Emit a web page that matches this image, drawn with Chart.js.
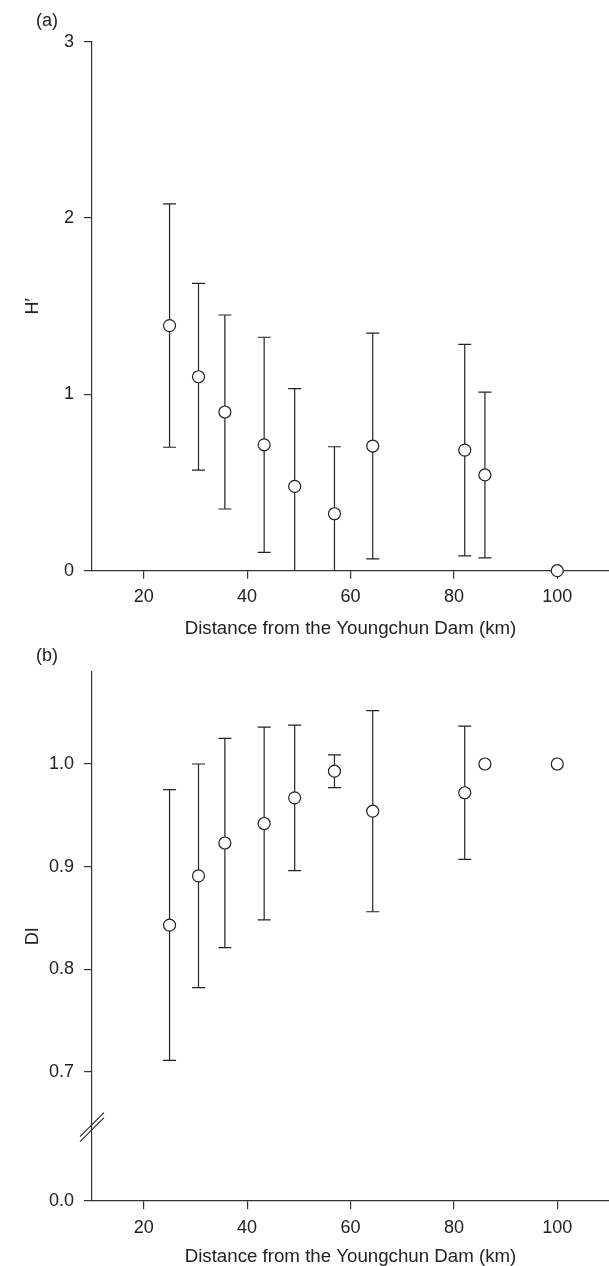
<!DOCTYPE html>
<html>
<head>
<meta charset="utf-8">
<script src="https://cdn.jsdelivr.net/npm/chart.js@4.4.0/dist/chart.umd.min.js"></script>
<style>
  html, body { margin: 0; padding: 0; background: #fff; }
  body { width: 609px; height: 1266px; position: relative; overflow: hidden; font-family: 'Liberation Sans', Arial, sans-serif; }
  canvas { position: absolute; left: 0; }
  .tag { position: absolute; left: 36px; font-size: 18px; line-height: 18px; color: #222; }
</style>
</head>
<body>
<canvas id="chartA" width="609" height="640" style="top:0"></canvas>
<canvas id="chartB" width="609" height="626" style="top:640px"></canvas>
<div class="tag" style="top:11px">(a)</div>
<div class="tag" style="top:646px">(b)</div>
<script>
// distance of each site from the dam (km)
const distances = [25, 30.6, 35.7, 43.3, 49.2, 56.9, 64.3, 82.1, 86.0, 100];

// (a) diversity H'
const hMean = [1.39, 1.10, 0.90, 0.714, 0.478, 0.323, 0.707, 0.684, 0.543, 0];
const hSd = [0.69, 0.53, 0.55, 0.61, 0.555, 0.38, 0.64, 0.60, 0.47, 0];

// (b) dominance index DI
const diMean = [0.843, 0.891, 0.923, 0.942, 0.967, 0.993, 0.954, 0.972, 1.0, 1.0];
const diSd = [0.132, 0.109, 0.102, 0.094, 0.071, 0.016, 0.098, 0.065, 0, 0];

const xTicks = [20, 40, 60, 80, 100];
const hTicks = [0, 1, 2, 3];
// broken axis: "0.0" sits just under 0.7
const diAxisFloor = 0.574;
const diBreakAt = 0.646;
const diTickValues = [diAxisFloor, 0.7, 0.8, 0.9, 1.0];
const diTickLabels = ['0.0', '0.7', '0.8', '0.9', '1.0'];

const ink = '#222';
const axisInk = '#333';
const font = { family: "'Liberation Sans', Arial, sans-serif", size: 18 };

const errorBars = {
    id: 'errorBars',
    beforeDatasetsDraw(chart) {
        const { ctx, chartArea } = chart;
        const xs = chart.scales.x;
        const ys = chart.scales.y;
        const ds = chart.data.datasets[0];
        ctx.save();
        ctx.beginPath();
        ctx.rect(chartArea.left, chartArea.top - 10, chartArea.right - chartArea.left, chartArea.bottom - chartArea.top + 10);
        ctx.clip();
        ctx.strokeStyle = ink;
        ctx.lineWidth = 1.2;
        ds.data.forEach((p, i) => {
            const e = ds.errors[i];
            if (!e) return;
            const px = xs.getPixelForValue(p.x);
            const top = ys.getPixelForValue(p.y + e);
            const bot = ys.getPixelForValue(p.y - e);
            ctx.beginPath();
            ctx.moveTo(px, top);
            ctx.lineTo(px, bot);
            ctx.moveTo(px - 6.5, top);
            ctx.lineTo(px + 6.5, top);
            ctx.moveTo(px - 6.5, bot);
            ctx.lineTo(px + 6.5, bot);
            ctx.stroke();
        });
        ctx.restore();
    }
};

const axisBreak = {
    id: 'axisBreak',
    afterDraw(chart) {
        if (!chart.options.plugins.axisBreak) return;
        const { ctx } = chart;
        const ys = chart.scales.y;
        const px = ys.right;
        const py = ys.getPixelForValue(diBreakAt);
        ctx.save();
        ctx.strokeStyle = axisInk;
        ctx.lineWidth = 1.2;
        [-2.5, 2.5].forEach(d => {
            ctx.beginPath();
            ctx.moveTo(px - 12, py + d + 12);
            ctx.lineTo(px + 12, py + d - 12);
            ctx.stroke();
        });
        ctx.restore();
    }
};

// keep the plot box fixed: no extra room asked for by edge labels
function noEdgePadding(s) {
    s.paddingLeft = 0;
    s.paddingRight = 0;
    s.paddingTop = 0;
    s.paddingBottom = 0;
}

function makePanel(canvasId, means, sds, yScale, topPad, xHeight, titlePad, withBreak) {
    const ctx = document.getElementById(canvasId).getContext('2d');
    return new Chart(ctx, {
        type: 'scatter',
        data: {
            datasets: [{
                data: distances.map((d, i) => ({ x: d, y: means[i] })),
                errors: sds,
                pointRadius: 6,
                pointHoverRadius: 6,
                borderWidth: 1.2,
                borderColor: ink,
                pointBackgroundColor: '#fff',
                clip: false
            }]
        },
        options: {
            responsive: false,
            animation: false,
            events: [],
            layout: { autoPadding: false, padding: { top: topPad, left: 0, right: 0, bottom: 0 } },
            plugins: {
                legend: { display: false },
                tooltip: { enabled: false },
                axisBreak: withBreak
            },
            scales: {
                x: {
                    type: 'linear',
                    min: 10,
                    max: 110,
                    afterFit: s => { s.height = xHeight; noEdgePadding(s); },
                    afterBuildTicks: s => { s.ticks = xTicks.map(v => ({ value: v })); },
                    ticks: { color: ink, font, padding: 8, maxRotation: 0 },
                    grid: { drawOnChartArea: false, tickLength: 8, color: axisInk, lineWidth: 1.2 },
                    border: { color: axisInk, width: 1.2 },
                    title: {
                        display: true,
                        text: 'Distance from the Youngchun Dam (km)',
                        color: ink,
                        font: { ...font, size: 18.7, lineHeight: 1 },
                        padding: { top: 0, bottom: titlePad }
                    }
                },
                y: yScale
            }
        },
        plugins: [errorBars, axisBreak]
    });
}

const yA = {
    min: 0,
    max: 3,
    afterFit: s => { s.width = 92; noEdgePadding(s); },
    afterBuildTicks: s => { s.ticks = hTicks.map(v => ({ value: v })); },
    ticks: { color: ink, font, padding: 10, callback: v => String(v) },
    grid: { drawOnChartArea: false, tickLength: 8, color: axisInk, lineWidth: 1.2 },
    border: { color: axisInk, width: 1.2 },
    title: { display: true, text: 'H′', color: ink, font, padding: { top: 22, bottom: 0 } }
};

const yB = {
    min: diAxisFloor,
    max: 1.09,
    afterFit: s => { s.width = 92; noEdgePadding(s); },
    afterBuildTicks: s => { s.ticks = diTickValues.map(v => ({ value: v })); },
    ticks: { color: ink, font, padding: 10, callback: (v, i) => diTickLabels[i] },
    grid: { drawOnChartArea: false, tickLength: 8, color: axisInk, lineWidth: 1.2 },
    border: { color: axisInk, width: 1.2 },
    title: { display: true, text: 'DI', color: ink, font, padding: { top: 22, bottom: 0 } }
};

makePanel('chartA', hMean, hSd, yA, 41.7, 69.3, 2.2, false);
makePanel('chartB', diMean, diSd, yB, 31.7, 65, 0, true);
</script>
</body>
</html>
